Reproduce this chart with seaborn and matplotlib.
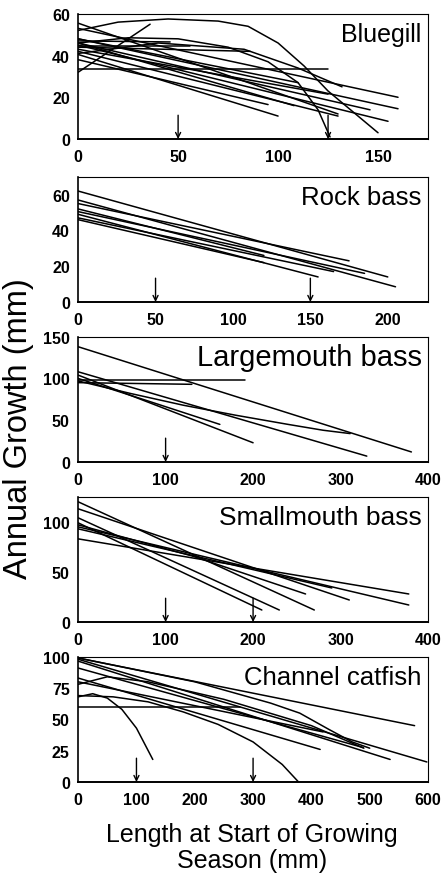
import matplotlib
matplotlib.use("Agg")
import matplotlib.pyplot as plt
import seaborn as sns
import pandas as pd

# --- data: each fitted growth line per species (length at start, annual growth) ---
bluegill_x = [
    [0, 20, 45, 70, 85, 100, 113, 125, 140, 150],
    [0, 25, 50, 75, 95, 110, 120, 126],
    [0, 125], [0, 36], [0, 130], [0, 160], [0, 160], [0, 155],
    [0, 46], [0, 56], [0, 86], [0, 100], [0, 95], [0, 108],
    [0, 125], [0, 146], [0, 130], [0, 110],
    [0, 40, 83, 110, 132],
]
bluegill_y = [
    [52, 56, 57.5, 56.5, 54, 46, 35, 23, 11, 3],
    [46, 48.5, 48, 44, 37, 27, 14, 1],
    [33.5, 33.5], [32, 55], [55.5, 12], [53, 20], [48, 14.5], [45, 8.5],
    [47, 46.5], [44.5, 44.5], [44, 42], [40.5, 11], [38, 16.5], [46, 16],
    [43, 21.5], [46, 14], [42, 11], [48, 27],
    [41, 46, 43, 34, 25],
]

rockbass_x = [[0, 200], [0, 205], [0, 175], [0, 120], [0, 185], [0, 155], [0, 165], [0, 120]]
rockbass_y = [[62, 14], [57, 8.5], [55, 23], [52, 26], [50.5, 16], [49, 14], [47, 17], [46, 22]]

largemouth_x = [
    [0, 381], [0, 191], [0, 330], [0, 200], [0, 80, 162],
    [0, 60, 120, 180, 240, 280, 311], [0, 130],
]
largemouth_y = [
    [138, 12], [98.5, 98.5], [108, 7], [104, 23], [100, 73, 45],
    [97, 82, 68, 56, 45, 38, 34], [95, 93],
]

smallmouth_x = [[0, 270], [0, 310], [0, 230], [0, 210], [0, 378], [0, 290], [0, 378], [0, 130, 260]]
smallmouth_y = [[120, 12], [113, 22], [104, 12], [99, 12], [95, 17], [93, 34], [83, 28], [97, 66, 28]]

catfish_x = [
    [0, 577], [0, 598], [0, 535], [0, 489], [0, 415], [0, 278],
    [0, 25, 50, 75, 100, 128],
    [0, 60, 120, 180, 240, 300, 350, 378],
    [0, 50, 120, 250, 400, 490],
    [0, 200, 330, 380, 430, 470, 500],
    [0, 420],
]
catfish_y = [
    [99, 45], [98, 16], [96.5, 18], [91, 27.5], [83, 26], [60, 60],
    [68, 70.5, 67, 58, 43, 18],
    [69, 68, 64, 56, 46, 32, 14, 0],
    [78, 84, 80, 66, 45, 27],
    [99, 80, 63, 55, 42, 32, 27],
    [80, 40],
]

species = ["Bluegill", "Rock bass", "Largemouth bass", "Smallmouth bass", "Channel catfish"]
xs = [bluegill_x, rockbass_x, largemouth_x, smallmouth_x, catfish_x]
ys = [bluegill_y, rockbass_y, largemouth_y, smallmouth_y, catfish_y]
arrows = [[50, 125], [50, 150], [100], [100, 200], [100, 300]]
xlims = [175, 226, 400, 400, 600]
ylims = [60, 70, 150, 125, 100]
xticks = [[0, 50, 100, 150], [0, 50, 100, 150, 200], [0, 100, 200, 300, 400],
          [0, 100, 200, 300, 400], [0, 100, 200, 300, 400, 500, 600]]
yticks = [[0, 20, 40, 60], [0, 20, 40, 60], [0, 50, 100, 150],
          [0, 50, 100], [0, 25, 50, 75, 100]]
title_sizes = [18, 18.5, 21, 19, 18.5]

# long-form table for seaborn
rows = []
for sp, xl, yl in zip(species, xs, ys):
    for i, (xx, yy) in enumerate(zip(xl, yl)):
        for a, b in zip(xx, yy):
            rows.append({"species": sp, "line": i, "x": a, "y": b})
df = pd.DataFrame(rows)

sns.set_theme(style="white")
plt.rcParams["font.family"] = ["Liberation Sans", "DejaVu Sans"]
plt.rcParams["text.color"] = "black"
plt.rcParams["xtick.color"] = "black"
plt.rcParams["ytick.color"] = "black"
plt.rcParams["axes.labelcolor"] = "black"

fig = plt.figure(figsize=(4.44, 8.79), dpi=100)
left, width = 0.176, 0.788
bottoms = [0.8407, 0.6553, 0.4733, 0.2912, 0.1092]
height = 0.1425

for k, sp in enumerate(species):
    ax = fig.add_axes([left, bottoms[k], width, height])
    sub = df[df["species"] == sp]
    sns.lineplot(data=sub, x="x", y="y", units="line", estimator=None,
                 color="black", linewidth=1.1, ax=ax)
    ax.set_xlim(0, xlims[k])
    ax.set_ylim(0, ylims[k])
    ax.set_xticks(xticks[k])
    ax.set_yticks(yticks[k])
    ax.set_xlabel("")
    ax.set_ylabel("")
    ax.tick_params(length=0, labelsize=11.5, labelcolor="black")
    ax.tick_params(axis="x", pad=7)
    ax.tick_params(axis="y", pad=6)
    for lab in ax.get_xticklabels() + ax.get_yticklabels():
        lab.set_fontweight("bold")
    for s in ax.spines.values():
        s.set_color("black")
        s.set_linewidth(0.8)
    ax.spines["bottom"].set_linewidth(1.4)
    ax.spines["left"].set_linewidth(1.2)
    for xa in arrows[k]:
        ax.annotate("", xy=(xa, 0), xycoords=("data", "axes fraction"),
                    xytext=(xa, 0.19), textcoords=("data", "axes fraction"),
                    arrowprops=dict(arrowstyle="->", color="black", lw=1.0,
                                    mutation_scale=9, shrinkA=0, shrinkB=0))
    ax.text(0.982, 0.84, sp, transform=ax.transAxes, ha="right", va="center",
            fontsize=title_sizes[k], color="black")

fig.text(0.042, 0.512, "Annual Growth (mm)", rotation=90, ha="center", va="center",
         fontsize=23.5, color="black")
fig.text(0.567, 0.035, "Length at Start of Growing\nSeason (mm)", ha="center",
         va="center", fontsize=18, linespacing=1.12, color="black")

fig.savefig("out.png", dpi=100)
